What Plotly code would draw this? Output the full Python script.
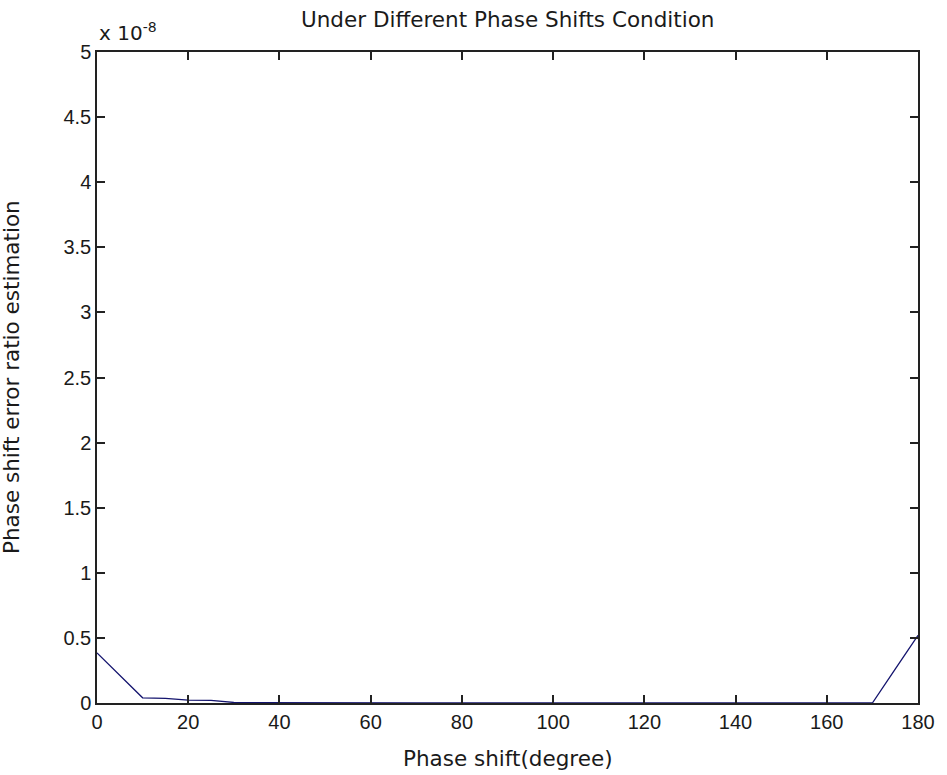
import plotly.graph_objects as go

# Data (values in units of 1e-8)
phase_deg = [0, 5, 10, 15, 20, 25, 30, 35, 40, 45, 50, 55, 60, 65, 70, 75, 80, 85, 90,
             95, 100, 105, 110, 115, 120, 125, 130, 135, 140, 145, 150, 155, 160, 165,
             170, 175, 180]
err_ratio = [0.385, 0.21, 0.04, 0.035, 0.022, 0.02, 0.004, 0.003, 0.002, 0.002, 0.002,
             0.001, 0.001, 0.001, 0.001, 0.001, 0.001, 0.001, 0.001, 0.001, 0.001, 0.001,
             0.001, 0.001, 0.001, 0.001, 0.001, 0.001, 0.001, 0.001, 0.001, 0.001, 0.001,
             0.001, 0.0, 0.26, 0.52]
x_ticks = [0, 20, 40, 60, 80, 100, 120, 140, 160, 180]
y_ticks = [0, 0.5, 1, 1.5, 2, 2.5, 3, 3.5, 4, 4.5, 5]
y_tick_text = ["0", "0.5", "1", "1.5", "2", "2.5", "3", "3.5", "4", "4.5", "5"]

W, H = 947, 775
L, R, T, B = 97, 24, 52, 72
PW, PH = W - L - R, H - T - B

TICKFONT = "Liberation Sans, Arial, sans-serif"
LABELFONT = "DejaVu Sans, Verdana, sans-serif"
TXT = "#1a1a1a"

fig = go.Figure()
fig.add_trace(go.Scatter(x=phase_deg, y=err_ratio, mode="lines",
                         line=dict(color="#14146e", width=1.3), showlegend=False))

axis_common = dict(
    showline=True, linecolor="#222", linewidth=1.5, mirror="allticks",
    ticks="inside", ticklen=8, tickwidth=1.5, tickcolor="#222",
    showgrid=False, zeroline=False,
    tickfont=dict(family=TICKFONT, size=20, color=TXT),
)

fig.update_layout(
    width=W, height=H,
    margin=dict(l=L, r=R, t=T, b=B),
    paper_bgcolor="white", plot_bgcolor="white",
    font=dict(family=TICKFONT, size=20, color=TXT),
    xaxis=dict(range=[0, 180], tickvals=x_ticks, **axis_common),
    yaxis=dict(range=[0, 5], tickvals=y_ticks, ticktext=y_tick_text, **axis_common),
)

lab = dict(family=LABELFONT, size=21.5, color=TXT)
# title
fig.add_annotation(text="Under Different Phase Shifts Condition", xref="paper", yref="paper",
                   x=0.5, y=1 + (T - 19) / PH, xanchor="center", yanchor="middle",
                   showarrow=False, font=lab)
# x label
fig.add_annotation(text="Phase shift(degree)", xref="paper", yref="paper",
                   x=(510 - L) / PW, y=-(758 - (T + PH)) / PH, xanchor="center", yanchor="middle",
                   showarrow=False, font=lab)
# y label
fig.add_annotation(text="Phase shift error ratio estimation", xref="paper", yref="paper",
                   x=-(L - 11) / PW, y=0.5, xanchor="center", yanchor="middle",
                   textangle=-90, showarrow=False, font=lab)
# exponent
fig.add_annotation(text="x 10<sup>-8</sup>", xref="paper", yref="paper",
                   x=0, y=1, xanchor="left", yanchor="bottom", yshift=5, showarrow=False,
                   font=dict(family=LABELFONT, size=20, color=TXT))

fig.write_html("out.html")
